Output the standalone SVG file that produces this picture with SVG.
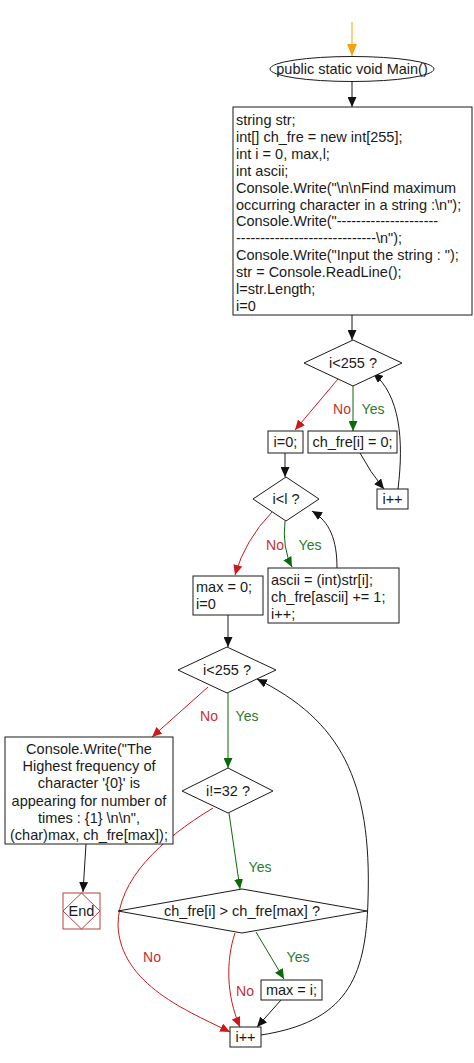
<svg xmlns="http://www.w3.org/2000/svg" width="474" height="1063" viewBox="0 0 474 1063">
<style>
text{font-family:"Liberation Sans",Arial,sans-serif;font-size:14.5px;fill:#1a1a1a}
.c{text-anchor:middle}
.n rect,.n polygon,.n ellipse{fill:#fff;stroke:#1a1a1a;stroke-width:1}
.e{fill:none;stroke:#1a1a1a;stroke-width:1}
.r{stroke:#d01818}
.g{stroke:#0a6a0a}
.o{stroke:#f5a00f}
.lr{fill:#c83030;font-size:14px}
.lg{fill:#2a7a2a;font-size:14px}
</style>
<defs>
<marker id="ab" markerUnits="userSpaceOnUse" markerWidth="10" markerHeight="9" refX="10" refY="4.5" orient="auto"><path d="M0,0 L10,4.5 L0,9 z" fill="#111"/></marker>
<marker id="ar" markerUnits="userSpaceOnUse" markerWidth="10" markerHeight="9" refX="10" refY="4.5" orient="auto"><path d="M0,0 L10,4.5 L0,9 z" fill="#d01818"/></marker>
<marker id="ag" markerUnits="userSpaceOnUse" markerWidth="10" markerHeight="9" refX="10" refY="4.5" orient="auto"><path d="M0,0 L10,4.5 L0,9 z" fill="#0a6a0a"/></marker>
<marker id="ao" markerUnits="userSpaceOnUse" markerWidth="12" markerHeight="10" refX="12" refY="5" orient="auto"><path d="M0,0 L12,5 L0,10 z" fill="#f5a00f"/></marker>
</defs>
<g id="connectors">
<path class="e o" d="M352,22 L352,56" marker-end="url(#ao)"/>
<path class="e" d="M352,82 L352,107" marker-end="url(#ab)"/>
<path class="e" d="M352,315 L352,340" marker-end="url(#ab)"/>
<path class="e r" d="M338,379 L295,430" marker-end="url(#ar)"/>
<path class="e g" d="M353,386 L353,431" marker-end="url(#ag)"/>
<path class="e" d="M360,453 Q370,472 384,489" marker-end="url(#ab)"/>
<path class="e" d="M398,489 C404,440 400,395 373,373" marker-end="url(#ab)"/>
<path class="e" d="M285,453 L285,477" marker-end="url(#ab)"/>
<path class="e r" d="M272,512 Q245,540 235,575" marker-end="url(#ar)"/>
<path class="e g" d="M285,521 Q282,548 292,567" marker-end="url(#ag)"/>
<path class="e" d="M337,568 C337,540 330,522 312,511" marker-end="url(#ab)"/>
<path class="e" d="M228,615 L228,647" marker-end="url(#ab)"/>
<path class="e r" d="M208,687 L152,737" marker-end="url(#ar)"/>
<path class="e g" d="M228,693 L228,768" marker-end="url(#ag)"/>
<path class="e r" d="M213,808 C160,840 118,880 118,925 C120,985 190,1012 230,1032" marker-end="url(#ar)"/>
<path class="e g" d="M229,813 L240,889" marker-end="url(#ag)"/>
<path class="e r" d="M235,933 C226,960 226,995 240,1027" marker-end="url(#ar)"/>
<path class="e g" d="M256,932 L284,979" marker-end="url(#ag)"/>
<path class="e" d="M281,1000 L257,1027" marker-end="url(#ab)"/>
<path class="e" d="M261,1035 C345,1022 366,980 368,900 C372,780 340,720 257,679" marker-end="url(#ab)"/>
<path class="e" d="M86,844 L83,892" marker-end="url(#ab)"/>
<text class="lr" x="342" y="414" text-anchor="middle">No</text>
<text class="lg" x="373" y="414" text-anchor="middle">Yes</text>
<text class="lr" x="275" y="550" text-anchor="middle">No</text>
<text class="lg" x="310" y="550" text-anchor="middle">Yes</text>
<text class="lr" x="209" y="721" text-anchor="middle">No</text>
<text class="lg" x="247" y="721" text-anchor="middle">Yes</text>
<text class="lg" x="260" y="872" text-anchor="middle">Yes</text>
<text class="lr" x="152" y="962" text-anchor="middle">No</text>
<text class="lr" x="245" y="996" text-anchor="middle">No</text>
<text class="lg" x="298" y="962" text-anchor="middle">Yes</text>
</g>
<g id="start" class="n">
<ellipse cx="352" cy="69" rx="82" ry="12.5"/>
<text class="c" x="352" y="74">public static void Main()</text>
</g>
<g id="init" class="n">
<rect x="233" y="107" width="239" height="208"/>
<text x="236" y="125">string str;</text>
<text x="236" y="141.9">int[] ch_fre = new int[255];</text>
<text x="236" y="158.8">int i = 0, max,l;</text>
<text x="236" y="175.7">int ascii;</text>
<text x="236" y="192.6">Console.Write("\n\nFind maximum</text>
<text x="236" y="209.5">occurring character in a string :\n");</text>
<text x="236" y="226.4">Console.Write("---------------------</text>
<text x="236" y="243.3">-----------------------------\n");</text>
<text x="236" y="260.2">Console.Write("Input the string : ");</text>
<text x="236" y="277.1">str = Console.ReadLine();</text>
<text x="236" y="294">l=str.Length;</text>
<text x="236" y="310.9">i=0</text>
</g>
<g id="cond1" class="n">
<polygon points="353,340 402,363 353,386 304,363"/>
<text class="c" x="353" y="368">i&lt;255 ?</text>
</g>
<g id="zero" class="n">
<rect x="268" y="431" width="35" height="22"/>
<text class="c" x="285.5" y="447">i=0;</text>
</g>
<g id="setzero" class="n">
<rect x="308" y="431" width="89" height="22"/>
<text class="c" x="352.5" y="447">ch_fre[i] = 0;</text>
</g>
<g id="inc1" class="n">
<rect x="377" y="489" width="31" height="20"/>
<text class="c" x="392.5" y="504">i++</text>
</g>
<g id="cond2" class="n">
<polygon points="286,477 319,499 286,521 253,499"/>
<text class="c" x="286" y="504">i&lt;l ?</text>
</g>
<g id="maxinit" class="n">
<rect x="193" y="576" width="70" height="39"/>
<text x="196" y="592">max = 0;</text>
<text x="196" y="609">i=0</text>
</g>
<g id="count" class="n">
<rect x="268" y="568" width="131" height="55"/>
<text x="271" y="585">ascii = (int)str[i];</text>
<text x="271" y="602">ch_fre[ascii] += 1;</text>
<text x="271" y="619">i++;</text>
</g>
<g id="cond3" class="n">
<polygon points="227,647 276,670 227,693 178,670"/>
<text class="c" x="227" y="675">i&lt;255 ?</text>
</g>
<g id="print" class="n">
<rect x="5" y="737" width="168" height="107"/>
<text class="c" x="89" y="754">Console.Write("The</text>
<text class="c" x="89" y="771.2">Highest frequency of</text>
<text class="c" x="89" y="788.4">character '{0}' is</text>
<text class="c" x="89" y="805.6">appearing for number of</text>
<text class="c" x="89" y="822.8">times : {1} \n\n",</text>
<text class="c" x="89" y="840">(char)max, ch_fre[max]);</text>
</g>
<g id="cond4" class="n">
<polygon points="228,768 273,791 228,813 182,791"/>
<text class="c" x="228" y="796">i!=32 ?</text>
</g>
<g id="cond5" class="n">
<polygon points="242,889 367,911 242,933 118,911"/>
<text class="c" x="242" y="916">ch_fre[i] &gt; ch_fre[max] ?</text>
</g>
<g id="setmax" class="n">
<rect x="261" y="980" width="61" height="20"/>
<text class="c" x="291.5" y="995">max = i;</text>
</g>
<g id="inc2" class="n">
<rect x="230" y="1027" width="31" height="20"/>
<text class="c" x="245.5" y="1042">i++</text>
</g>
<g id="end">
<rect x="63" y="893" width="37" height="36" fill="#fff" stroke="#b84040"/>
<polygon points="81.5,893 100,911 81.5,929 63,911" fill="none" stroke="#b84040"/>
<text class="c" x="81.5" y="916">End</text>
</g>
</svg>
